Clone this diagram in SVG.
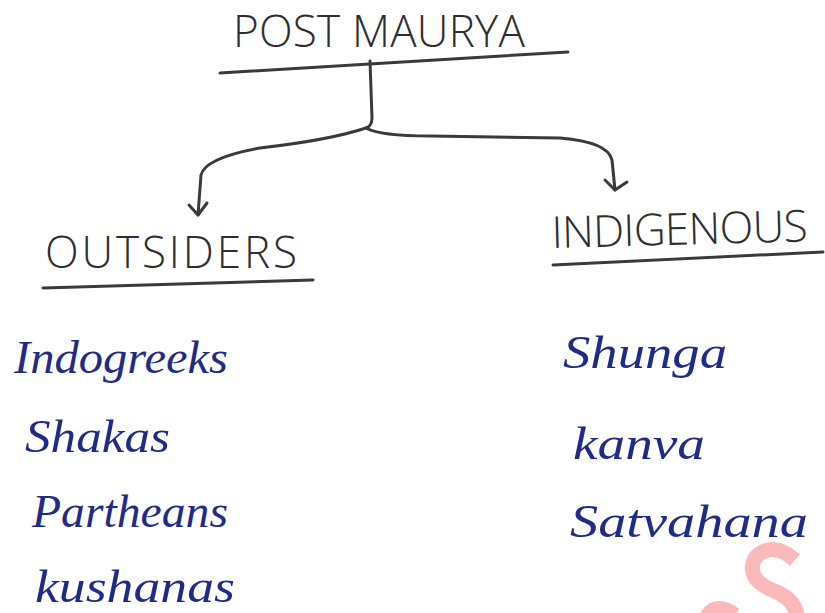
<svg xmlns="http://www.w3.org/2000/svg" width="825" height="613" viewBox="0 0 825 613">
<style>
.h{font-family:"Open Sans","Liberation Sans",Arial,sans-serif;font-size:44px;fill:#2e2e2e;font-weight:300}
.b{font-family:"Liberation Serif","Times New Roman",serif;font-style:italic;font-size:46px;fill:#1f2b86}
.ln{fill:none;stroke:#3a3a3a;stroke-width:3;stroke-linecap:round;stroke-linejoin:round}
.wm{fill:none;stroke:#fbb9b9;stroke-width:15;stroke-linecap:butt}
</style>
<rect width="825" height="613" fill="#ffffff"/>
<g id="post-maurya">
<text class="h" x="233" y="47" textLength="292" lengthAdjust="spacing">POST MAURYA</text>
<path class="ln" d="M220 73 L568 52"/>
</g>
<g id="outsiders">
<text class="h" x="45" y="268" font-size="40" textLength="252" lengthAdjust="spacing">OUTSIDERS</text>
<path class="ln" d="M43 288 L313 280"/>
</g>
<g id="indigenous">
<text class="h" x="552" y="248" font-size="42" textLength="256" lengthAdjust="spacing" transform="rotate(-1.5 552 248)">INDIGENOUS</text>
<path class="ln" d="M553 265 L823 252"/>
</g>
<g id="outsider-list">
<text class="b" x="14" y="373" textLength="214" lengthAdjust="spacingAndGlyphs">Indogreeks</text>
<text class="b" x="25" y="452" textLength="145" lengthAdjust="spacingAndGlyphs">Shakas</text>
<text class="b" x="32" y="527" textLength="196" lengthAdjust="spacingAndGlyphs">Partheans</text>
<text class="b" x="35" y="602" textLength="200" lengthAdjust="spacingAndGlyphs">kushanas</text>
</g>
<g id="indigenous-list">
<text class="b" x="563" y="368" textLength="164" lengthAdjust="spacingAndGlyphs">Shunga</text>
<text class="b" x="573" y="459" textLength="132" lengthAdjust="spacingAndGlyphs">kanva</text>
<text class="b" x="570" y="537" textLength="238" lengthAdjust="spacingAndGlyphs">Satvahana</text>
</g>
<g id="connectors">
<path class="ln" d="M370 61 L372 118 Q372 126 366 128 Q330 140 260 148 Q205 158 201 175 L198 215"/>
<path class="ln" d="M189 205 L198 215 L207 203"/>
<path class="ln" d="M366 128 Q380 136 430 136 L560 138 Q608 142 612 160 L615 190"/>
<path class="ln" d="M605 180 L615 190 L627 182"/>
</g>
<g id="watermark">
<path class="wm" d="M795 560 Q772 540 755 558 Q745 578 772 590 Q800 600 797 625"/>
<path class="wm" d="M703 625 Q712 598 735 615"/>
</g>
</svg>
